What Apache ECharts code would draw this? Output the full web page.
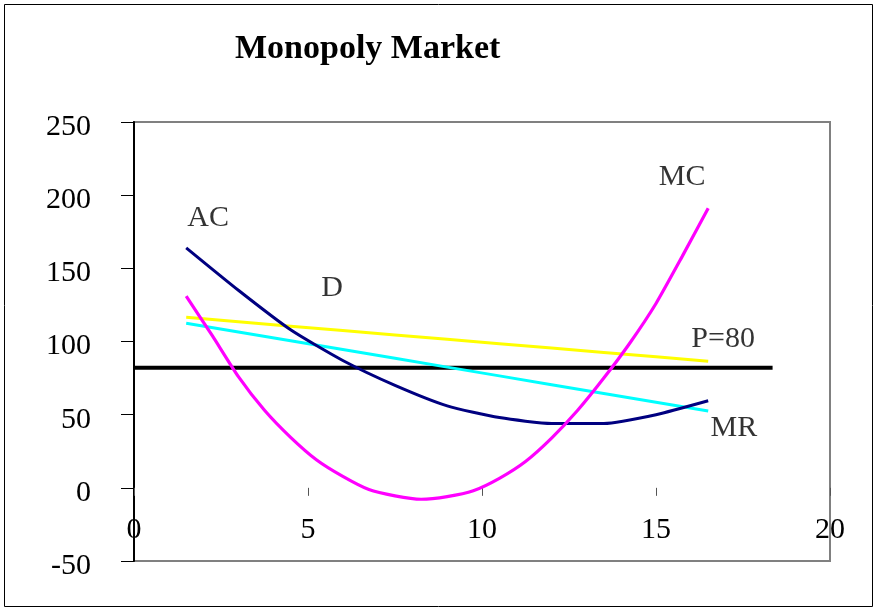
<!DOCTYPE html>
<html>
<head>
<meta charset="utf-8">
<script src="https://cdn.jsdelivr.net/npm/echarts@6/dist/echarts.min.js"></script>
<style>
  html, body { margin: 0; padding: 0; background: #fff; }
  #chart { width: 877px; height: 611px; }
</style>
</head>
<body>
<div id="chart"></div>
<script>
// ---- Data ----
const quantity = [1.5, 3, 4.5, 6, 7.5, 9, 10.5, 12, 13.5, 15, 16.5];
const acValues = [164, 135, 108, 87, 70, 56, 48, 44, 44, 50, 59.5];
const demandValues = [116.5, 113.5, 110.5, 107.5, 104.5, 101.5, 98.5, 95.5, 92.5, 89.5, 86.5];
const mrValues = [112.5, 106.5, 100.5, 94.5, 88.5, 82.5, 76.5, 70.5, 64.5, 58.5, 52.5];
const mcQuantity = [1.5, 2.25, 3, 3.75, 4.5, 5.25, 6, 6.75, 7.5, 8.25, 9, 9.75, 10.5, 11.25, 12, 12.75, 13.5, 14.25, 15, 15.75, 16.5];
const mcValues = [131, 104, 76, 53, 34.5, 19, 7.8, -1.2, -5.5, -7.8, -6, -2, 6.5, 18, 34, 53, 75, 99, 126, 158, 191];
const priceQuantity = [0, 18.35];
const priceValues = [82, 82];
const curveLabels = ['AC', 'D', 'MC', 'P=80', 'MR'];
const curveLabelQ = [2.13, 5.69, 15.75, 16.93, 17.24];
const curveLabelV = [184.5, 136.5, 212.5, 101.5, 41];
const xTicks = [0, 5, 10, 15, 20];
const yTicks = [-50, 0, 50, 100, 150, 200, 250];

const FONT = "'Liberation Serif', 'Times New Roman', serif";
const pair = (xs, ys) => xs.map((x, i) => [x, ys[i]]);

// grid geometry (pixels)
const G = { left: 134, top: 122, right: 47, bottom: 50 };
const plotH = 611 - G.top - G.bottom;
const yMin = yTicks[0], yMax = yTicks[yTicks.length - 1];
const zeroFromBottom = plotH * (0 - yMin) / (yMax - yMin);

const chart = echarts.init(document.getElementById('chart'), null, { renderer: 'canvas' });
chart.setOption({
  animation: false,
  backgroundColor: '#fff',
  title: {
    text: 'Monopoly Market',
    left: 230,
    top: 27,
    textStyle: { fontFamily: FONT, fontSize: 34, fontWeight: 'bold', color: '#000' }
  },
  graphic: [{
    type: 'rect',
    silent: true,
    shape: { x: 4.5, y: 4.5, width: 868, height: 602 },
    style: { fill: 'none', stroke: '#000', lineWidth: 1 }
  }],
  grid: {
    left: G.left, top: G.top, right: G.right, bottom: G.bottom,
    show: true, borderColor: '#808080', borderWidth: 2,
    containLabel: false,
    outerBoundsMode: 'none'
  },
  xAxis: {
    type: 'value',
    min: xTicks[0], max: xTicks[xTicks.length - 1], interval: 5,
    offset: -zeroFromBottom,
    axisLine: { show: false, onZero: false },
    axisTick: { show: true, length: 8, inside: false, lineStyle: { color: '#555', width: 1 } },
    axisLabel: { show: true, margin: 27, color: '#000', fontFamily: FONT, fontSize: 30, showMinLabel: true, showMaxLabel: true },
    splitLine: { show: false }
  },
  yAxis: {
    type: 'value',
    min: yMin, max: yMax, interval: 50,
    axisLine: { show: true, lineStyle: { color: '#000', width: 2 } },
    axisTick: { show: true, length: 13, inside: false, lineStyle: { color: '#000', width: 1 } },
    axisLabel: { show: true, margin: 43, color: '#000', fontFamily: FONT, fontSize: 30,
      verticalAlign: 'top', lineHeight: 10 },
    splitLine: { show: false }
  },
  series: [
    { name: 'P', type: 'line', data: pair(priceQuantity, priceValues), showSymbol: false,
      lineStyle: { color: '#000', width: 4 }, z: 2 },
    { name: 'D', type: 'line', data: pair(quantity, demandValues), showSymbol: false,
      lineStyle: { color: '#FFFF00', width: 3 }, z: 3 },
    { name: 'MR', type: 'line', data: pair(quantity, mrValues), showSymbol: false,
      lineStyle: { color: '#00FFFF', width: 3 }, z: 3 },
    { name: 'AC', type: 'line', data: pair(quantity, acValues), showSymbol: false, smooth: 0.2,
      lineStyle: { color: '#000080', width: 3 }, z: 4 },
    { name: 'MC', type: 'line', data: pair(mcQuantity, mcValues), showSymbol: false, smooth: 0.2,
      lineStyle: { color: '#FF00FF', width: 3.2 }, z: 5 },
    { name: 'labels', type: 'scatter', symbolSize: 0, silent: true, z: 6,
      data: curveLabels.map((t, i) => ({ value: [curveLabelQ[i], curveLabelV[i]], name: t })),
      label: { show: true, position: 'inside', formatter: p => p.name,
        color: '#000', fontFamily: FONT, fontSize: 30 } }
  ]
});
</script>
</body>
</html>
